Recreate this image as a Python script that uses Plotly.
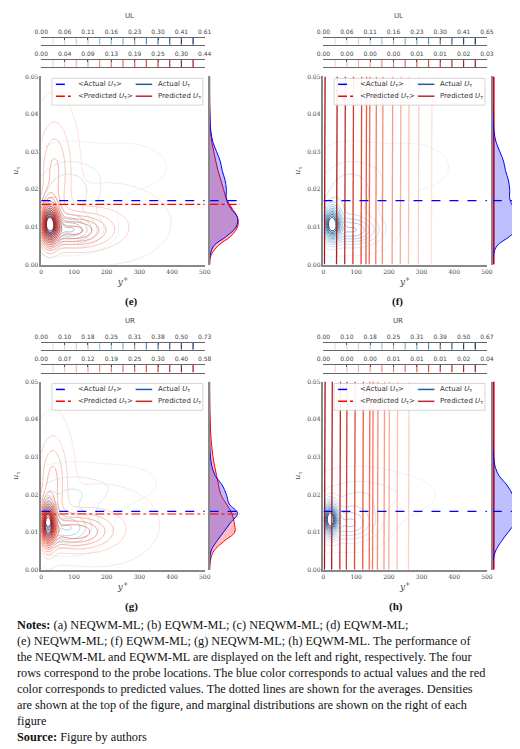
import numpy as np
import plotly.graph_objects as go
from plotly.colors import sample_colorscale

# ---- data ----
panels = ["e", "f", "g", "h"]
titles = ["UL", "UL", "UR", "UR"]

cb_actual_labels = [
    ["0.00", "0.06", "0.11", "0.16", "0.23", "0.30", "0.41", "0.61"],
    ["0.00", "0.06", "0.11", "0.16", "0.23", "0.30", "0.41", "0.65"],
    ["0.00", "0.10", "0.18", "0.25", "0.31", "0.38", "0.50", "0.73"],
    ["0.00", "0.10", "0.18", "0.25", "0.31", "0.39", "0.50", "0.67"],
]
cb_pred_labels = [
    ["0.00", "0.04", "0.09", "0.13", "0.19", "0.25", "0.30", "0.44"],
    ["0.00", "0.00", "0.00", "0.00", "0.01", "0.01", "0.02", "0.03"],
    ["0.00", "0.07", "0.12", "0.19", "0.25", "0.30", "0.40", "0.58"],
    ["0.00", "0.00", "0.00", "0.01", "0.01", "0.01", "0.02", "0.04"],
]

# density blobs (y+, u_tau, spread y+, spread u_tau, weight)
actual_blobs = [
    [(25, 0.011, 18, 0.003, 1.0), (90, 0.009, 55, 0.0025, 0.45), (80, 0.019, 70, 0.006, 0.25), (260, 0.026, 80, 0.004, 0.06)],
    [(25, 0.011, 18, 0.003, 1.0), (90, 0.009, 55, 0.0025, 0.45), (80, 0.019, 70, 0.006, 0.25), (260, 0.026, 80, 0.004, 0.06)],
    [(20, 0.0135, 15, 0.003, 1.0), (80, 0.011, 55, 0.003, 0.4), (90, 0.020, 80, 0.004, 0.18), (250, 0.023, 70, 0.003, 0.05)],
    [(20, 0.0135, 15, 0.003, 1.0), (80, 0.012, 55, 0.003, 0.4), (100, 0.019, 80, 0.004, 0.18), (240, 0.020, 70, 0.003, 0.05)],
]
pred_blobs = [
    [(25, 0.011, 18, 0.004, 1.0), (100, 0.009, 70, 0.003, 0.5), (40, 0.025, 35, 0.009, 0.3), (200, 0.011, 110, 0.006, 0.1)],
    None,
    [(20, 0.012, 15, 0.004, 1.0), (100, 0.010, 70, 0.003, 0.45), (35, 0.024, 30, 0.008, 0.3), (180, 0.012, 100, 0.006, 0.1)],
    None,
]
# vertical predicted contour lines for EQWM-ML panels (y+ position, level index 0..13)
pred_vlines = [
    None,
    ([3, 40, 65, 90, 115, 130, 140, 160, 180, 210, 235, 260, 290, 330], list(range(13, -1, -1))),
    None,
    ([3, 25, 50, 70, 95, 120, 140, 150, 165, 185, 200, 225, 260], list(range(13, 0, -1))),
]

u_grid = [0, 0.0025, 0.005, 0.0075, 0.01, 0.0125, 0.015, 0.0175, 0.02, 0.0225,
          0.025, 0.0275, 0.03, 0.0325, 0.035, 0.0375, 0.04, 0.0425, 0.045, 0.0475, 0.05]
marg_actual = [
    [0, 0.02, 0.15, 0.6, 0.95, 1.0, 0.75, 0.6, 0.6, 0.55, 0.45, 0.38, 0.25, 0.12, 0.05, 0.02, 0.01, 0, 0, 0, 0],
    [0, 0.02, 0.15, 0.6, 0.95, 1.0, 0.75, 0.6, 0.6, 0.55, 0.45, 0.38, 0.25, 0.12, 0.05, 0.02, 0.01, 0, 0, 0, 0],
    [0, 0.01, 0.05, 0.25, 0.5, 0.75, 1.0, 0.7, 0.6, 0.45, 0.2, 0.08, 0.03, 0.01, 0, 0, 0, 0, 0, 0, 0],
    [0, 0.01, 0.1, 0.3, 0.55, 0.8, 1.0, 0.85, 0.7, 0.5, 0.22, 0.08, 0.03, 0.01, 0, 0, 0, 0, 0, 0, 0],
]
marg_pred = [
    [0, 0.05, 0.3, 0.75, 1.0, 1.0, 0.8, 0.6, 0.5, 0.4, 0.3, 0.22, 0.15, 0.08, 0.04, 0.02, 0.01, 0.005, 0, 0, 0],
    None,
    [0, 0.03, 0.15, 0.5, 0.9, 0.88, 0.8, 0.6, 0.4, 0.32, 0.25, 0.18, 0.12, 0.08, 0.05, 0.03, 0.02, 0.01, 0.005, 0, 0],
    None,
]
marg_max = [1.08, 1.0, 1.08, 1.0]
mean_actual = [0.017, 0.017, 0.0155, 0.0155]
mean_pred = [0.016, None, 0.0148, None]

W, H = 520, 749
BLUES = [[0, "#e6f0fa"], [0.6, "#6aaed6"], [1, "#08306b"]]
REDS = [[0, "#fde3d8"], [0.6, "#f4593f"], [1, "#a50f15"]]

fig = go.Figure()


def px_x(p):
    return p / W


def px_y(p):
    return 1 - p / H


def blob_density(blobs, xx, yy):
    z = np.zeros_like(xx)
    for cx, cy, sx, sy, w in blobs:
        z += w * np.exp(-0.5 * (((xx - cx) / sx) ** 2 + ((yy - cy) / sy) ** 2))
    return z


xs = np.linspace(0, 500, 121)
ys = np.linspace(0, 0.05, 121)
XX, YY = np.meshgrid(xs, ys)

layout = {}
ax = 1
for i, name in enumerate(panels):
    col, row = i % 2, i // 2
    left, right = (27, 195) if col == 0 else (317, 485)
    mleft, mright = (200, 231) if col == 0 else (491, 522)
    oy = 308 * row
    top, bot = 65 + oy, 255 + oy
    ax_main, ax_marg, ax_cb1, ax_cb2 = ax, ax + 1, ax + 2, ax + 3
    ax += 4

    def key(n, a):
        return f"{n}axis" + ("" if a == 1 else str(a))

    def ref(n, a):
        return n + ("" if a == 1 else str(a))

    # main axes
    layout[key("x", ax_main)] = dict(domain=[px_x(left), px_x(right)], range=[0, 500], anchor=ref("y", ax_main),
                                     tickvals=[0, 100, 200, 300, 400, 500], showgrid=False, zeroline=False,
                                     showline=True, linecolor="#888", linewidth=1.5, ticks="",
                                     tickfont=dict(size=6, family="DejaVu Serif", color="#444"),
                                     title=dict(text="<i>y</i><sup>+</sup>", font=dict(size=9, family="DejaVu Serif", color="#444"), standoff=5))
    layout[key("y", ax_main)] = dict(domain=[px_y(bot), px_y(top)], range=[0, 0.05], anchor=ref("x", ax_main),
                                     tickvals=[0, 0.01, 0.02, 0.03, 0.04, 0.05], tickformat=".2f", showgrid=False,
                                     zeroline=False, showline=True, linecolor="#888", linewidth=1.5, ticks="",
                                     tickfont=dict(size=6, family="DejaVu Serif", color="#444"),
                                     title=dict(text="<i>u</i><sub>τ</sub>", font=dict(size=8, family="DejaVu Serif", color="#444"), standoff=5))
    # marginal axes
    layout[key("x", ax_marg)] = dict(domain=[px_x(mleft), min(px_x(mright), 1)], range=[0, marg_max[i]],
                                     anchor=ref("y", ax_marg), visible=False)
    layout[key("y", ax_marg)] = dict(domain=[px_y(bot), px_y(top)], range=[0, 0.05], anchor=ref("x", ax_marg),
                                     showticklabels=False, showgrid=False, zeroline=False, showline=True,
                                     linecolor="#888", linewidth=1.5, ticks="")
    # colour strips
    for a, labels, cs, (ct, cb) in [(ax_cb1, cb_actual_labels[i], BLUES, (26, 33)),
                                    (ax_cb2, cb_pred_labels[i], REDS, (48, 56))]:
        layout[key("x", a)] = dict(domain=[px_x(left), px_x(right)], range=[0, 14], anchor=ref("y", a), side="top",
                                   tickvals=list(range(0, 15, 2)), ticktext=labels, ticks="inside", ticklen=2,
                                   tickcolor="#555", showgrid=False, zeroline=False, mirror=True, showline=True,
                                   linecolor="#666", linewidth=1, tickfont=dict(size=6, family="DejaVu Sans", color="#444"))
        layout[key("y", a)] = dict(domain=[px_y(cb + oy), px_y(ct + oy)], range=[0, 1], anchor=ref("x", a),
                                   visible=False)
        colors = sample_colorscale(cs, [k / 13 for k in range(14)])
        for k in range(1, 14):
            fig.add_trace(go.Scatter(x=[k, k], y=[0, 1], mode="lines", line=dict(color=colors[k], width=1.2),
                                     xaxis=ref("x", a), yaxis=ref("y", a), showlegend=False, hoverinfo="skip"))

    # actual contours
    za = blob_density(actual_blobs[i], XX, YY)
    fig.add_trace(go.Contour(x=xs, y=ys, z=za, contours=dict(coloring="lines", start=za.max() * 0.015,
                                                             end=za.max() * 0.9, size=za.max() * 0.065),
                             colorscale=BLUES, showscale=False, line=dict(width=0.9), hoverinfo="skip",
                             xaxis=ref("x", ax_main), yaxis=ref("y", ax_main)))
    # predicted
    if pred_blobs[i] is not None:
        zp = blob_density(pred_blobs[i], XX, YY)
        fig.add_trace(go.Contour(x=xs, y=ys, z=zp, contours=dict(coloring="lines", start=zp.max() * 0.015,
                                                                 end=zp.max() * 0.9, size=zp.max() * 0.065),
                                 colorscale=REDS, showscale=False, line=dict(width=1), hoverinfo="skip",
                                 xaxis=ref("x", ax_main), yaxis=ref("y", ax_main)))
    else:
        vx, lv = pred_vlines[i]
        colors = sample_colorscale(REDS, [k / 13 for k in range(14)])
        for x0, l in zip(vx, lv):
            fig.add_trace(go.Scatter(x=[x0, x0 + 2], y=[0, 0.05], mode="lines", line=dict(color=colors[l], width=1.3),
                                     xaxis=ref("x", ax_main), yaxis=ref("y", ax_main), showlegend=False,
                                     hoverinfo="skip"))

    # marginals
    if marg_pred[i] is not None:
        fig.add_trace(go.Scatter(x=marg_pred[i], y=u_grid, mode="lines", line=dict(color="red", width=1, shape="spline"),
                                 fill="tozerox", fillcolor="rgba(255,0,0,0.25)", xaxis=ref("x", ax_marg),
                                 yaxis=ref("y", ax_marg), showlegend=False, hoverinfo="skip"))
    else:
        fig.add_trace(go.Scatter(x=[0.03, 0.03], y=[0, 0.05], mode="lines", line=dict(color="red", width=2),
                                 xaxis=ref("x", ax_marg), yaxis=ref("y", ax_marg), showlegend=False, hoverinfo="skip"))
    fig.add_trace(go.Scatter(x=marg_actual[i], y=u_grid, mode="lines", line=dict(color="blue", width=1, shape="spline"),
                             fill="tozerox", fillcolor="rgba(0,0,255,0.25)", xaxis=ref("x", ax_marg),
                             yaxis=ref("y", ax_marg), showlegend=False, hoverinfo="skip"))

    # mean lines
    for xa, xr in [(ax_main, [0, 500]), (ax_marg, [0, marg_max[i] * 1.1])]:
        fig.add_trace(go.Scatter(x=xr, y=[mean_actual[i]] * 2, mode="lines", line=dict(color="blue", width=1.2, dash="dash"),
                                 xaxis=ref("x", xa), yaxis=ref("y", xa), showlegend=False, hoverinfo="skip", cliponaxis=False))
        if mean_pred[i] is not None:
            fig.add_trace(go.Scatter(x=xr, y=[mean_pred[i]] * 2, mode="lines", line=dict(color="red", width=1.2, dash="dashdot"),
                                     xaxis=ref("x", xa), yaxis=ref("y", xa), showlegend=False, hoverinfo="skip", cliponaxis=False))

    # legend box
    bx0, bx1 = left + 11, left + 166
    fig.add_shape(type="rect", xref="paper", yref="paper", x0=px_x(bx0), x1=px_x(bx1), y0=px_y(top + 29),
                  y1=px_y(top + 2), fillcolor="rgba(255,255,255,0.9)", line=dict(color="#ccc", width=0.8))
    entries = [(15, 8, "blue", "dash", "&lt;Actual <i>U</i><sub>τ</sub>&gt;"),
               (97, 8, "#1f5fa8", "solid", "Actual <i>U</i><sub>τ</sub>"),
               (15, 20, "red", "dashdot", "&lt;Predicted <i>U</i><sub>τ</sub>&gt;"),
               (97, 20, "#c0272d", "solid", "Predicted <i>U</i><sub>τ</sub>")]
    for ex, ey, c, d, txt in entries:
        fig.add_shape(type="line", xref="paper", yref="paper", x0=px_x(left + ex), x1=px_x(left + ex + 17),
                      y0=px_y(top + ey), y1=px_y(top + ey), line=dict(color=c, width=1.5, dash=d))
        fig.add_annotation(xref="paper", yref="paper", x=px_x(left + ex + 21), y=px_y(top + ey), text=txt,
                           showarrow=False, xanchor="left", yanchor="middle",
                           font=dict(size=7, family="DejaVu Sans", color="#333"))

    mid = (left + right) / 2
    fig.add_annotation(xref="paper", yref="paper", x=px_x(mid), y=px_y(4 + oy), text=titles[i], showarrow=False,
                       yanchor="middle", font=dict(size=7, family="DejaVu Sans", color="#444"))
    fig.add_annotation(xref="paper", yref="paper", x=px_x(mid), y=px_y(292 + oy), text=f"<b>({name})</b>",
                       showarrow=False, yanchor="middle", font=dict(size=11, family="Liberation Serif", color="#111"))

notes = ("<b>Notes:</b> (a) NEQWM-ML; (b) EQWM-ML; (c) NEQWM-ML; (d) EQWM-ML;<br>"
         "(e) NEQWM-ML; (f) EQWM-ML; (g) NEQWM-ML; (h) EQWM-ML. The performance of<br>"
         "the NEQWM-ML and EQWM-ML are displayed on the left and right, respectively. The four<br>"
         "rows correspond to the probe locations. The blue color corresponds to actual values and the red<br>"
         "color corresponds to predicted values. The dotted lines are shown for the averages. Densities<br>"
         "are shown at the top of the figure, and marginal distributions are shown on the right of each<br>"
         "figure<br>"
         "<b>Source:</b> Figure by authors")
fig.add_annotation(xref="paper", yref="paper", x=0, y=px_y(610), text=notes, showarrow=False, xanchor="left",
                   yanchor="top", align="left", font=dict(size=12.3, family="Liberation Serif", color="#111"))

fig.update_layout(width=W, height=H, margin=dict(l=0, r=0, t=0, b=0), plot_bgcolor="white",
                  paper_bgcolor="white", showlegend=False, **layout)
fig.write_html("out.html")
